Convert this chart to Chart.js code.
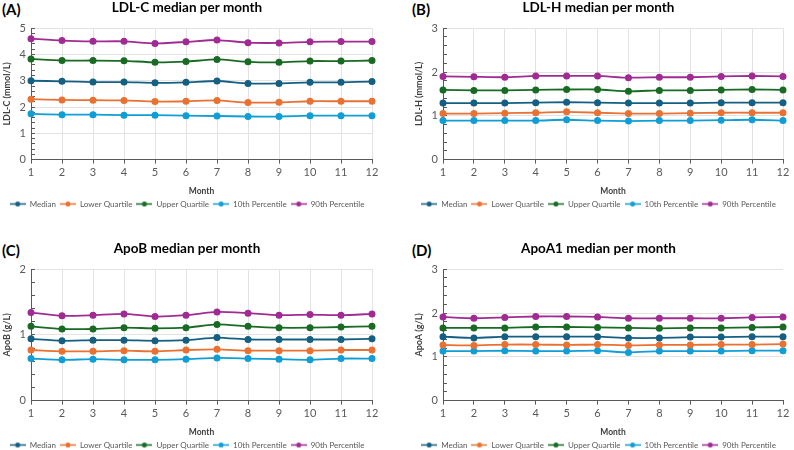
<!DOCTYPE html>
<html>
<head>
<meta charset="utf-8">
<script src="https://cdn.jsdelivr.net/npm/chart.js@4.4.0/dist/chart.umd.min.js"></script>
<style>
  body { margin: 0; background: #fff; width: 794px; height: 450px; overflow: hidden; position: relative; }
  .panel { position: absolute; }
  .tag { position: absolute; font: bold 15px Lato, sans-serif; color: #000; }
</style>
</head>
<body>
<div class="tag" style="left:2px;top:0px">(A)</div>
<div class="tag" style="left:412px;top:0px">(B)</div>
<div class="tag" style="left:2px;top:241px">(C)</div>
<div class="tag" style="left:412px;top:241px">(D)</div>
<div class="panel" style="left:0;top:0;width:397px;height:226px"><canvas id="chartA"></canvas></div>
<div class="panel" style="left:397px;top:0;width:397px;height:226px"><canvas id="chartB"></canvas></div>
<div class="panel" style="left:0;top:241px;width:397px;height:219px"><canvas id="chartC"></canvas></div>
<div class="panel" style="left:397px;top:241px;width:397px;height:219px"><canvas id="chartD"></canvas></div>
<script>
// Meses y series
var months = ["1", "2", "3", "4", "5", "6", "7", "8", "9", "10", "11", "12"];
var seriesNames = ["Median", "Lower Quartile", "Upper Quartile", "10th Percentile", "90th Percentile"];
var seriesColors = ["#156082", "#E97132", "#196B24", "#0F9ED5", "#A02B93"];

// (A) LDL-C
var ldlcMedian = [3.00, 2.98, 2.95, 2.95, 2.92, 2.94, 2.99, 2.90, 2.90, 2.94, 2.94, 2.97];
var ldlcLower = [2.30, 2.27, 2.26, 2.25, 2.21, 2.22, 2.25, 2.17, 2.18, 2.22, 2.22, 2.22];
var ldlcUpper = [3.83, 3.77, 3.77, 3.76, 3.70, 3.73, 3.81, 3.72, 3.70, 3.75, 3.75, 3.77];
var ldlcP10 = [1.74, 1.71, 1.71, 1.69, 1.69, 1.67, 1.66, 1.64, 1.64, 1.67, 1.67, 1.67];
var ldlcP90 = [4.60, 4.53, 4.50, 4.50, 4.42, 4.48, 4.55, 4.45, 4.44, 4.48, 4.49, 4.49];

// (B) LDL-H
var ldlhMedian = [1.29, 1.29, 1.29, 1.30, 1.31, 1.30, 1.29, 1.29, 1.29, 1.30, 1.30, 1.30];
var ldlhLower = [1.05, 1.05, 1.06, 1.07, 1.09, 1.07, 1.05, 1.05, 1.06, 1.07, 1.07, 1.07];
var ldlhUpper = [1.59, 1.58, 1.58, 1.59, 1.60, 1.60, 1.56, 1.58, 1.58, 1.59, 1.60, 1.59];
var ldlhP10 = [0.89, 0.89, 0.89, 0.89, 0.91, 0.89, 0.88, 0.89, 0.89, 0.90, 0.91, 0.89];
var ldlhP90 = [1.90, 1.89, 1.88, 1.91, 1.91, 1.91, 1.87, 1.88, 1.88, 1.90, 1.91, 1.90];

// (C) ApoB
var apobMedian = [0.94, 0.91, 0.92, 0.92, 0.91, 0.92, 0.96, 0.93, 0.93, 0.93, 0.93, 0.94];
var apobLower = [0.77, 0.75, 0.75, 0.76, 0.75, 0.77, 0.78, 0.76, 0.76, 0.76, 0.77, 0.77];
var apobUpper = [1.13, 1.09, 1.09, 1.11, 1.10, 1.11, 1.16, 1.13, 1.11, 1.11, 1.12, 1.13];
var apobP10 = [0.64, 0.62, 0.63, 0.62, 0.62, 0.63, 0.65, 0.64, 0.63, 0.62, 0.64, 0.64];
var apobP90 = [1.34, 1.29, 1.30, 1.32, 1.28, 1.30, 1.35, 1.33, 1.30, 1.31, 1.30, 1.32];

// (D) ApoA1
var apoaMedian = [1.46, 1.43, 1.46, 1.46, 1.46, 1.46, 1.43, 1.43, 1.45, 1.45, 1.46, 1.46];
var apoaLower = [1.27, 1.26, 1.28, 1.28, 1.27, 1.28, 1.26, 1.27, 1.27, 1.28, 1.28, 1.29];
var apoaUpper = [1.66, 1.66, 1.66, 1.68, 1.68, 1.67, 1.66, 1.65, 1.66, 1.66, 1.67, 1.68];
var apoaP10 = [1.13, 1.13, 1.14, 1.13, 1.13, 1.14, 1.10, 1.13, 1.13, 1.13, 1.14, 1.14];
var apoaP90 = [1.91, 1.88, 1.90, 1.92, 1.92, 1.91, 1.88, 1.88, 1.88, 1.88, 1.90, 1.91];

Chart.defaults.font.family = "Lato, 'Liberation Sans', sans-serif";
Chart.defaults.color = "#595959";

// Icono de la leyenda: linea con punto en el centro
function legendIcon(color) {
  var c = document.createElement("canvas");
  c.width = 16;
  c.height = 7;
  var g = c.getContext("2d");
  g.strokeStyle = color;
  g.lineWidth = 1.5;
  g.beginPath();
  g.moveTo(0, 3.5);
  g.lineTo(16, 3.5);
  g.stroke();
  g.fillStyle = color;
  g.beginPath();
  g.arc(8, 3.5, 2.5, 0, Math.PI * 2);
  g.fill();
  return c;
}
var icons = seriesColors.map(legendIcon);

function isWhole(v) {
  return Math.abs(v - Math.round(v)) < 1e-6;
}

function crearGrafico(id, titulo, ejeY, maxY, series, pad, vGrid) {
  var ctx = document.getElementById(id).getContext("2d");
  return new Chart(ctx, {
    type: "line",
    data: {
      labels: months,
      datasets: series.map(function (valores, i) {
        return {
          label: seriesNames[i],
          data: valores,
          borderColor: seriesColors[i],
          backgroundColor: seriesColors[i],
          borderWidth: 1.8,
          pointRadius: 2.6,
          pointHoverRadius: 3,
          tension: 0.2,
        };
      }),
    },
    options: {
      responsive: true,
      maintainAspectRatio: false,
      animation: false,
      layout: { padding: pad },
      scales: {
        x: {
          title: { display: true, text: "Month", color: "#404040", font: { size: 8.5, weight: "bold" }, padding: { top: 5, bottom: 0 } },
          ticks: { color: "#595959", font: { size: 11 }, padding: 2, maxRotation: 0 },
          grid: {
            color: vGrid ? "#e3e3e3" : "rgba(0,0,0,0)",
            tickColor: "#595959",
            tickLength: 4,
          },
          border: { color: "#595959", width: 1 },
        },
        y: {
          min: 0,
          max: maxY,
          afterFit: function (scale) {
            scale.width = 29;
          },
          title: { display: true, text: ejeY, color: "#404040", font: { size: 9, weight: "bold" }, padding: { top: 0, bottom: 0 } },
          ticks: {
            stepSize: 0.2,
            autoSkip: false,
            color: "#595959",
            font: { size: 11 },
            padding: 9,
            callback: function (v) {
              return isWhole(v) ? Math.round(v) : "";
            },
          },
          grid: {
            color: function (c) {
              return isWhole(c.tick.value) ? "#e3e3e3" : "rgba(0,0,0,0)";
            },
            tickColor: "#595959",
            tickLength: -4,
          },
          border: { color: "#595959", width: 1 },
        },
      },
      plugins: {
        title: {
          display: true,
          text: titulo,
          color: "#000000",
          font: { size: 13.5, weight: "bold" },
          padding: { top: 0, bottom: 12 },
        },
        legend: {
          position: "bottom",
          labels: {
            color: "#595959",
            font: { size: 8 },
            usePointStyle: true,
            pointStyleWidth: 16,
            boxHeight: 7,
            padding: 4,
            generateLabels: function (chart) {
              var items = Chart.defaults.plugins.legend.labels.generateLabels(chart);
              items.forEach(function (it, i) {
                it.pointStyle = icons[i];
              });
              return items;
            },
          },
        },
        tooltip: { enabled: false },
      },
    },
  });
}

crearGrafico("chartA", "LDL-C median per month", "LDL-C (mmol/L)", 5,
  [ldlcMedian, ldlcLower, ldlcUpper, ldlcP10, ldlcP90],
  { left: 2, right: 25, top: 0, bottom: 8 }, true);
crearGrafico("chartB", "LDL-H median per month", "LDL-H (mmol/L)", 3,
  [ldlhMedian, ldlhLower, ldlhUpper, ldlhP10, ldlhP90],
  { left: 17, right: 11, top: 0, bottom: 8 }, true);
crearGrafico("chartC", "ApoB median per month", "ApoB (g/L)", 2,
  [apobMedian, apobLower, apobUpper, apobP10, apobP90],
  { left: 2, right: 25, top: 0, bottom: 1 }, true);
crearGrafico("chartD", "ApoA1 median per month", "ApoA (g/L)", 3,
  [apoaMedian, apoaLower, apoaUpper, apoaP10, apoaP90],
  { left: 17, right: 11, top: 0, bottom: 1 }, false);
</script>
</body>
</html>
